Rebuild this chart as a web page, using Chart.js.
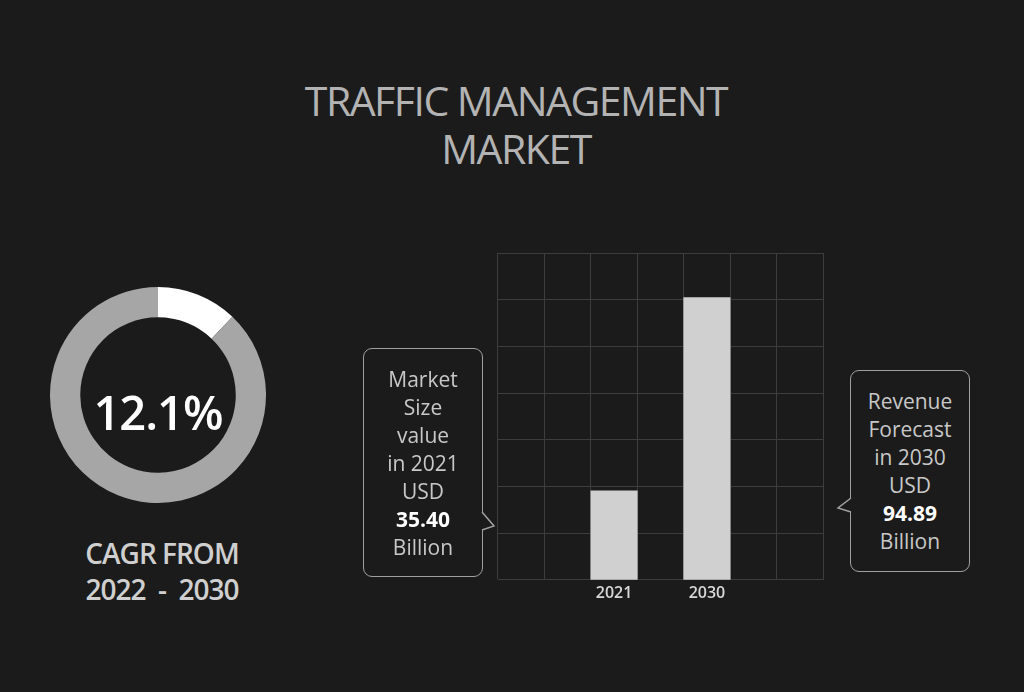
<!DOCTYPE html>
<html><head><meta charset="utf-8">
<script src="https://cdn.jsdelivr.net/npm/chart.js"></script>
<style>
body{margin:0;width:1024px;height:692px;background:#1b1b1b;font-family:"Open Sans",sans-serif;overflow:hidden;position:relative}
.abs{position:absolute}
#title{left:0;width:1032px;top:76px;text-align:center;color:#b3b3b3;font-size:41px;font-weight:400;line-height:48px;letter-spacing:-1.5px}
.box{border:1.5px solid #a0a0a0;border-radius:9px;color:#c8c8c8;font-size:21px;line-height:28px;text-align:center;box-sizing:border-box;display:flex;align-items:center;justify-content:center}
b{color:#fff}
</style></head><body>
<div id="title" class="abs">TRAFFIC MANAGEMENT<br>MARKET</div>
<div class="abs" style="left:48px;top:285px;width:220px;height:220px"><canvas id="d"></canvas></div>
<div class="abs" style="left:48px;top:387px;width:220px;text-align:center;color:#fff;font-size:47px;font-weight:600;line-height:50px;letter-spacing:-1px">12.1%</div>
<div class="abs" style="left:52px;top:535px;width:220px;text-align:center;color:#cfcfcf;font-size:28px;font-weight:600;line-height:36px;letter-spacing:-1px">CAGR FROM<br>2022&nbsp; -&nbsp; 2030</div>
<div class="abs" style="left:470px;top:246px;width:366px;height:361px"><canvas id="b"></canvas></div>
<div class="abs box" style="left:363px;top:348px;width:120px;height:229px"><div>Market<br>Size<br>value<br>in 2021<br>USD<br><b>35.40</b><br>Billion</div></div>
<div class="abs box" style="left:850px;top:370px;width:120px;height:202px"><div>Revenue<br>Forecast<br>in 2030<br>USD<br><b>94.89</b><br>Billion</div></div>
<svg class="abs" style="left:0;top:0" width="1024" height="692">
<polyline points="482,512 494,526 482,530" fill="#1b1b1b" stroke="#a0a0a0" stroke-width="1.5"/>
<polyline points="851,498 838,508 851,512" fill="#1b1b1b" stroke="#a0a0a0" stroke-width="1.5"/>
</svg>
<script>
const cagrShare=[12.1,87.9];
const categories=['','','2021','','2030','',''];
const values=[null,null,35.40,null,94.89,null,null];
new Chart(document.getElementById('d'),{type:'doughnut',data:{datasets:[{data:cagrShare,backgroundColor:['#ffffff','#a6a6a6'],borderWidth:0}]},
options:{responsive:true,maintainAspectRatio:false,animation:false,cutout:'72%',layout:{padding:2},plugins:{legend:{display:false},tooltip:{enabled:false}}}});
const yMin=8,yMax=108.6;
new Chart(document.getElementById('b'),{type:'bar',data:{labels:categories,datasets:[{data:values,backgroundColor:'#d0d0d0',barPercentage:1,categoryPercentage:1}]},
options:{responsive:true,maintainAspectRatio:false,animation:false,layout:{padding:{left:28,right:13,top:7}},
plugins:{legend:{display:false},tooltip:{enabled:false}},
scales:{x:{grid:{color:'#3d3d3d',offset:true,drawTicks:false},border:{color:'#3d3d3d'},ticks:{color:'#d8d8d8',font:{size:16,weight:'600',family:'Open Sans'},padding:4}},
y:{min:yMin,max:yMax,grid:{color:'#3d3d3d',drawTicks:false},border:{display:false},ticks:{display:false},
afterBuildTicks:a=>{const t=[];for(let i=0;i<=7;i++)t.push({value:yMin+(yMax-yMin)*i/7});a.ticks=t;}}}}});
</script></body></html>
